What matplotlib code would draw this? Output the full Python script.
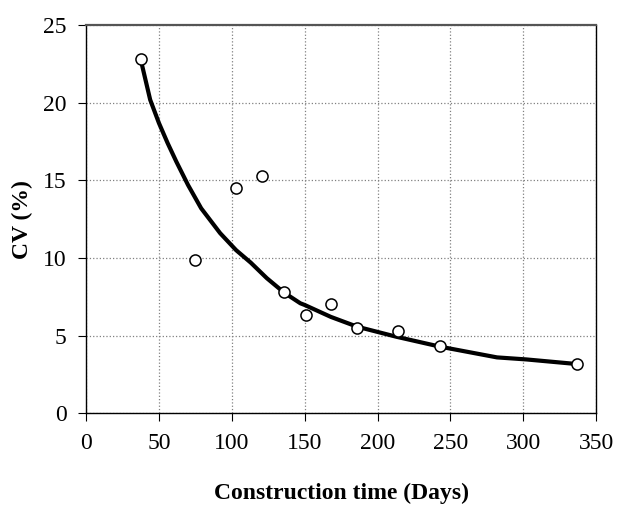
import numpy as np
import matplotlib
matplotlib.use("Agg")
import matplotlib.pyplot as plt

plt.rcParams['font.family'] = ['Liberation Serif', 'DejaVu Serif']

# observed points
days = [38, 75, 103, 121, 136, 151, 168, 186, 214, 243, 337]
cv = [22.8, 9.9, 14.5, 15.3, 7.8, 6.3, 7.0, 5.5, 5.3, 4.3, 3.15]

# fitted curve
fit_days = [38, 44, 50, 56, 62, 70, 79, 92, 103, 113, 124, 136, 147, 150,
            168, 186, 213, 243, 282, 302, 337]
fit_cv = [22.6, 20.2, 18.7, 17.4, 16.2, 14.7, 13.2, 11.6, 10.5, 9.7, 8.7,
          7.76, 7.08, 6.97, 6.2, 5.57, 4.92, 4.28, 3.59, 3.46, 3.16]

fig = plt.figure(figsize=(6.19, 5.05), dpi=100)
ax = fig.add_axes([0.139, 0.182, 0.824, 0.768])

ax.plot(fit_days, fit_cv, color='black', lw=3, zorder=3)
ax.plot(days, cv, 'o', ms=8, mfc='white', mec='black', mew=1.1, zorder=4)

ax.set_xlim(0, 350)
ax.set_ylim(0, 25)
ax.set_xticks(np.arange(0, 351, 50))
ax.set_yticks(np.arange(0, 26, 5))
ax.grid(True, linestyle=':', color='gray', lw=0.9)
ax.tick_params(direction='out', length=6, labelsize=17, pad=8)

ax.set_xlabel('Construction time (Days)', fontsize=17, fontweight='bold', labelpad=21)
ax.set_ylabel('CV (%)', fontsize=17, fontweight='bold', labelpad=7)

for s in ax.spines.values():
    s.set_linewidth(1.0)
ax.spines['top'].set_color('#555555')
ax.spines['top'].set_linewidth(1.6)

fig.savefig('out.png', dpi=100)
